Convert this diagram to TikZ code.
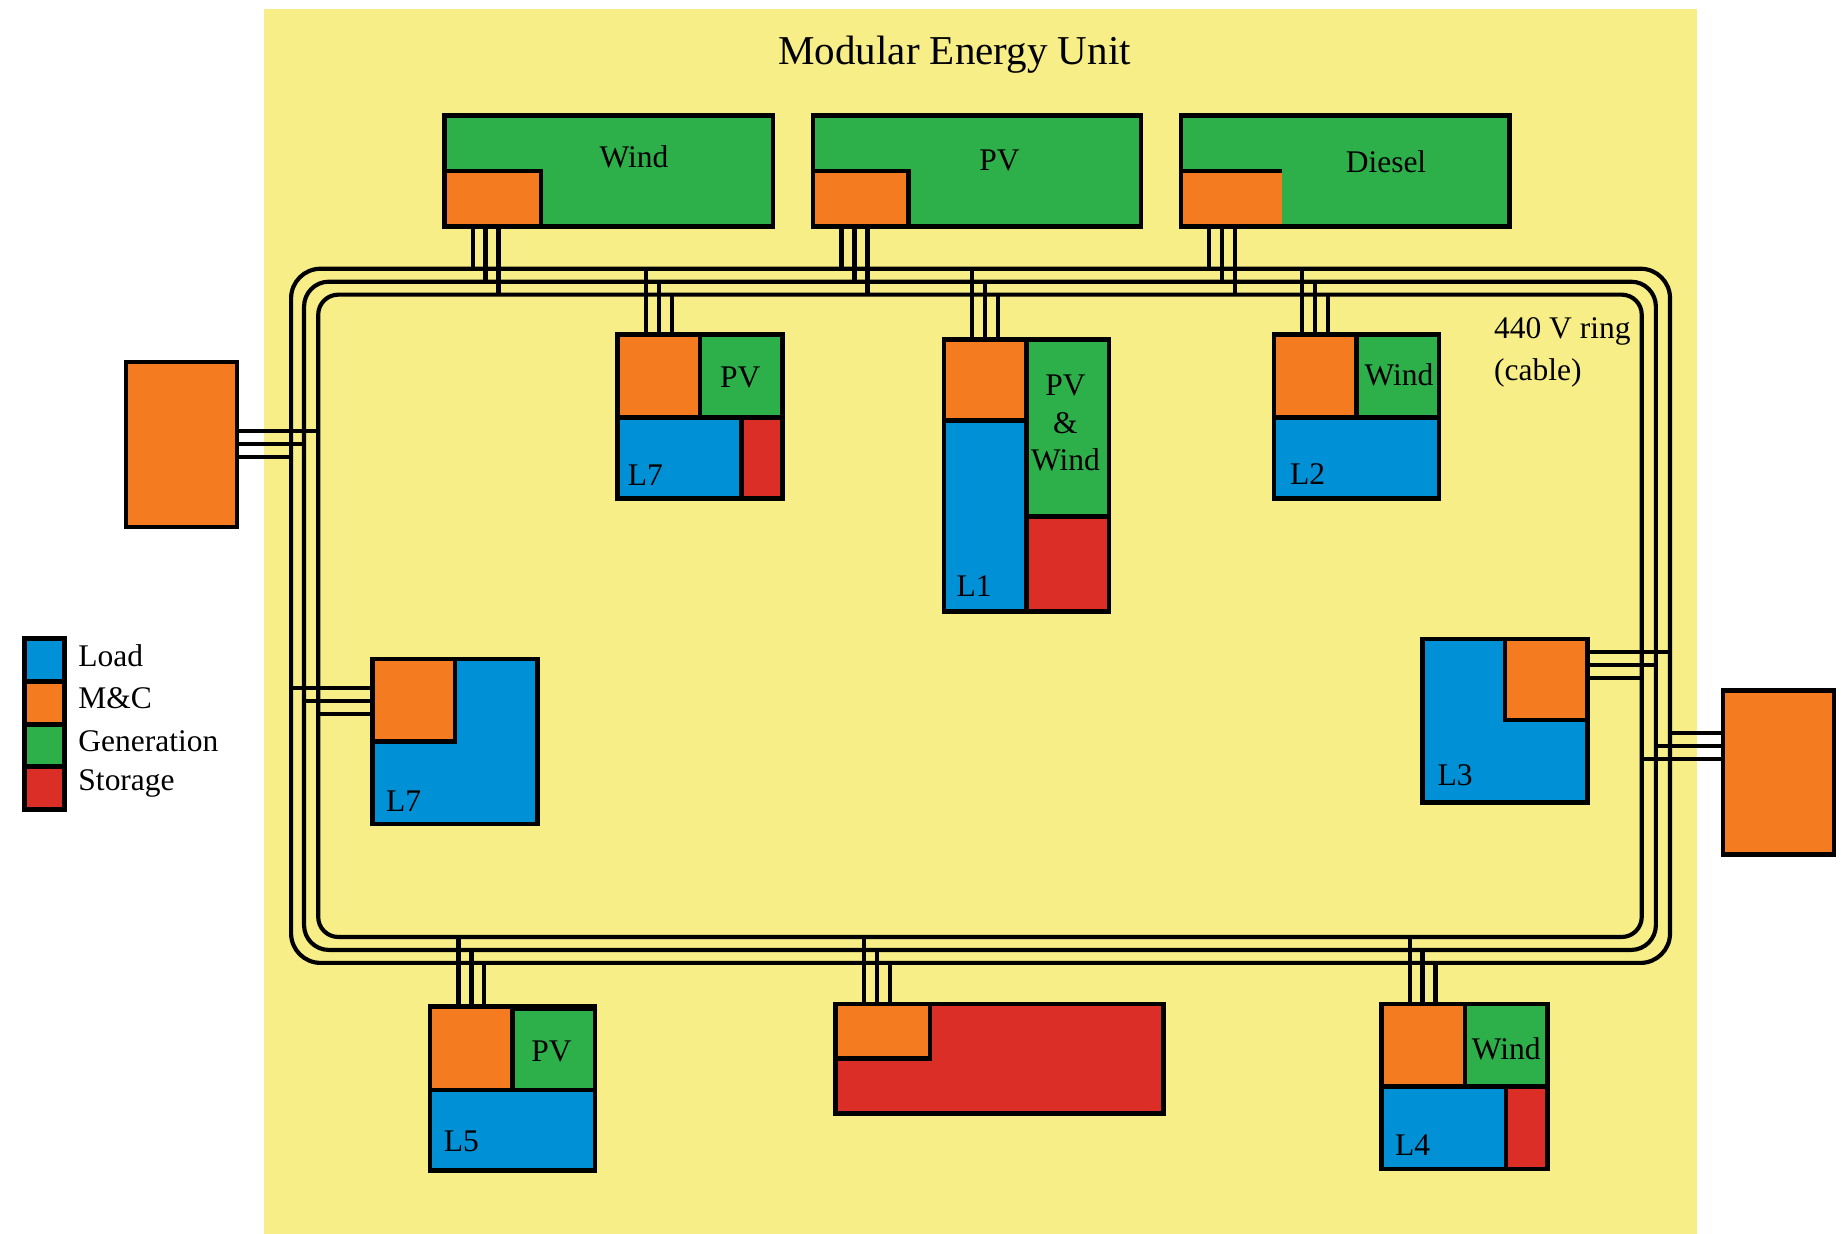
\documentclass[tikz,border=0pt]{standalone}
\usepackage{fontspec}
\setmainfont{Liberation Serif}
\usepackage{tikz}
\usetikzlibrary{calc,fit}
\definecolor{bgyellow}{HTML}{F7EE87}
\definecolor{loadblue}{HTML}{0090D6}
\definecolor{mcorange}{HTML}{F47B20}
\definecolor{gengreen}{HTML}{2DB04A}
\definecolor{storered}{HTML}{DA2E26}

\begin{document}
\begin{tikzpicture}[x=0.01cm, y=-0.01cm,
  part/.style={draw=black, line width=1.1pt},
  frame/.style={draw=black, line width=1.1pt, inner sep=0pt, outer sep=0pt},
  ring/.style={line width=1pt},
  cable/.style={line width=1pt},
  lbl/.style={font=\fontsize{7.6}{9}\selectfont, inner sep=0pt},
  legbox/.style={draw=black, line width=1.1pt, minimum width=0.34cm, minimum height=0.36cm, inner sep=0pt, anchor=north west}
]
  \useasboundingbox (0,0) rectangle (1568,1047);
  \fill[bgyellow] (224,8) rectangle (1440,1047);

  \node[font=\fontsize{9.9}{11}\selectfont] (title) at (810,46) {Modular Energy Unit};

  % generation along the top
  \filldraw[part, fill=gengreen] (377,98) rectangle (656,192);
  \filldraw[part, fill=mcorange] (377,145) rectangle (459,192);
  \filldraw[part, fill=gengreen] (690,98) rectangle (968,192);
  \filldraw[part, fill=mcorange] (690,145) rectangle (771,192);
  \filldraw[part, fill=gengreen] (1002,98) rectangle (1281,192);
  \fill[mcorange] (1004,145) rectangle (1088,190);
  \draw[line width=1.1pt] (1002,145) -- (1088,145);

  % units hanging from the top of the ring
  \filldraw[part, fill=mcorange] (524,284) rectangle (594,354);
  \filldraw[part, fill=gengreen] (594,284) rectangle (664,354);
  \filldraw[part, fill=loadblue] (524,354) rectangle (629,423);
  \filldraw[part, fill=storered] (629,354) rectangle (664,423);

  \filldraw[part, fill=mcorange] (801,288) rectangle (871,357);
  \filldraw[part, fill=loadblue] (801,357) rectangle (871,519);
  \filldraw[part, fill=gengreen] (871,288) rectangle (941,438);
  \filldraw[part, fill=storered] (871,438) rectangle (941,519);

  \filldraw[part, fill=mcorange] (1081,284) rectangle (1151,354);
  \filldraw[part, fill=gengreen] (1151,284) rectangle (1221,354);
  \filldraw[part, fill=loadblue] (1081,354) rectangle (1221,423);

  % sides
  \filldraw[part, fill=mcorange] (107,307) rectangle (201,447);
  \filldraw[part, fill=loadblue] (316,559) rectangle (456,699);
  \filldraw[part, fill=mcorange] (316,559) rectangle (386,629);
  \filldraw[part, fill=loadblue] (1207,542) rectangle (1347,681);
  \filldraw[part, fill=mcorange] (1277,542) rectangle (1347,611);
  \filldraw[part, fill=mcorange] (1462,586) rectangle (1556,725);

  % units below the ring
  \filldraw[part, fill=loadblue] (365,925) rectangle (505,993);
  \filldraw[part, fill=mcorange] (365,854) rectangle (435,925);
  \filldraw[part, fill=gengreen] (435,856) rectangle (505,925);

  \filldraw[part, fill=storered] (709,852) rectangle (987,945);
  \filldraw[part, fill=mcorange] (709,852) rectangle (789,898);

  \filldraw[part, fill=mcorange] (1172,852) rectangle (1243,922);
  \filldraw[part, fill=gengreen] (1243,852) rectangle (1313,922);
  \filldraw[part, fill=loadblue] (1172,922) rectangle (1278,992);
  \filldraw[part, fill=storered] (1278,922) rectangle (1313,992);

  % unit frames
  \node[frame, fit={(377,98) (656,192)}] (windgen) {};
  \node[frame, fit={(690,98) (968,192)}] (pvgen) {};
  \node[frame, fit={(1002,98) (1281,192)}] (dieselgen) {};
  \node[frame, fit={(524,284) (664,423)}] (ldsevtop) {};
  \node[frame, fit={(801,288) (941,519)}] (ldone) {};
  \node[frame, fit={(1081,284) (1221,423)}] (ldtwo) {};
  \node[frame, fit={(107,307) (201,447)}] (mcleft) {};
  \node[frame, fit={(316,559) (456,699)}] (ldsevleft) {};
  \node[frame, fit={(1207,542) (1347,681)}] (ldthree) {};
  \node[frame, fit={(1462,586) (1556,725)}] (mcright) {};
  \node[frame, fit={(365,854) (505,993)}] (ldfive) {};
  \node[frame, fit={(709,852) (987,945)}] (storbot) {};
  \node[frame, fit={(1172,852) (1313,992)}] (ldfour) {};

  % 440 V ring, three conductors
  \draw[ring, rounded corners=0.25cm] (247,228) rectangle (1417,817);
  \draw[ring, rounded corners=0.21cm] (258,239) rectangle (1405,806);
  \draw[ring, rounded corners=0.17cm] (270,250) rectangle (1393,795);
  \coordinate (ringTo) at (0,228);
  \coordinate (ringTm) at (0,239);
  \coordinate (ringTi) at (0,250);
  \coordinate (ringBi) at (0,795);
  \coordinate (ringBm) at (0,806);
  \coordinate (ringBo) at (0,817);
  \coordinate (ringLo) at (247,0);
  \coordinate (ringLm) at (258,0);
  \coordinate (ringLi) at (270,0);
  \coordinate (ringRi) at (1393,0);
  \coordinate (ringRm) at (1405,0);
  \coordinate (ringRo) at (1417,0);

  % cables
  \foreach \u in {windgen,pvgen,dieselgen}
    \foreach \r [count=\k from 0] in {To,Tm,Ti}
      \draw[cable] ($(\u.south west)+(24+11*\k,0)$) coordinate (c) -- (c |- ring\r);
  \foreach \u in {ldsevtop,ldone,ldtwo}
    \foreach \r [count=\k from 0] in {To,Tm,Ti}
      \draw[cable] ($(\u.north west)+(24+11*\k,0)$) coordinate (c) -- (c |- ring\r);
  \foreach \u in {ldfive,storbot,ldfour}
    \foreach \r [count=\k from 0] in {Bi,Bm,Bo}
      \draw[cable] ($(\u.north west)+(24+11*\k,0)$) coordinate (c) -- (c |- ring\r);
  \foreach \r [count=\k from 0] in {Li,Lm,Lo}
    \draw[cable] ($(mcleft.north east)+(0,59+11*\k)$) coordinate (c) -- (c -| ring\r);
  \foreach \r [count=\k from 0] in {Lo,Lm,Li}
    \draw[cable] ($(ldsevleft.north west)+(0,25+11*\k)$) coordinate (c) -- (c -| ring\r);
  \foreach \r [count=\k from 0] in {Ro,Rm,Ri}
    \draw[cable] ($(ldthree.north east)+(0,11+11*\k)$) coordinate (c) -- (c -| ring\r);
  \foreach \r [count=\k from 0] in {Ro,Rm,Ri}
    \draw[cable] ($(mcright.north west)+(0,36+11*\k)$) coordinate (c) -- (c -| ring\r);

  % labels
  \node[lbl] (windtxt) at (538,133) {Wind};
  \node[lbl] (pvtxt) at (848,136) {PV};
  \node[lbl] (dieseltxt) at (1176,137) {Diesel};
  \node[lbl] (pvsev) at (628,320) {PV};
  \node[lbl, anchor=west] (lsevtop) at (532,403) {L7};
  \node[lbl, align=center] (pvwind) at (904,359) {PV\\\&\\Wind};
  \node[lbl, anchor=west] (lone) at (811,497) {L1};
  \node[lbl] (windtwo) at (1187,318) {Wind};
  \node[lbl, anchor=west] (ltwo) at (1094,402) {L2};
  \node[lbl, anchor=west] (lsevleft) at (327,680) {L7};
  \node[lbl, anchor=west] (lthree) at (1219,658) {L3};
  \node[lbl] (pvfive) at (468,892) {PV};
  \node[lbl, anchor=west] (lfive) at (376,968) {L5};
  \node[lbl] (windfour) at (1278,890) {Wind};
  \node[lbl, anchor=west] (lfour) at (1183,972) {L4};
  \node[lbl, anchor=west, align=left] (ringtxt) at (1267,299) {440 V ring\\[1pt](cable)};

  % legend
  \foreach \c/\t [count=\i from 0] in {loadblue/Load, mcorange/M\&C, gengreen/Generation, storered/Storage} {
    \node[legbox, fill=\c] (leg\i) at (19,540+36.3*\i) {};
    \node[lbl, anchor=west] (legtxt\i) at ($(leg\i.east)+(9,-4)$) {\t};
  }
\end{tikzpicture}
\end{document}
